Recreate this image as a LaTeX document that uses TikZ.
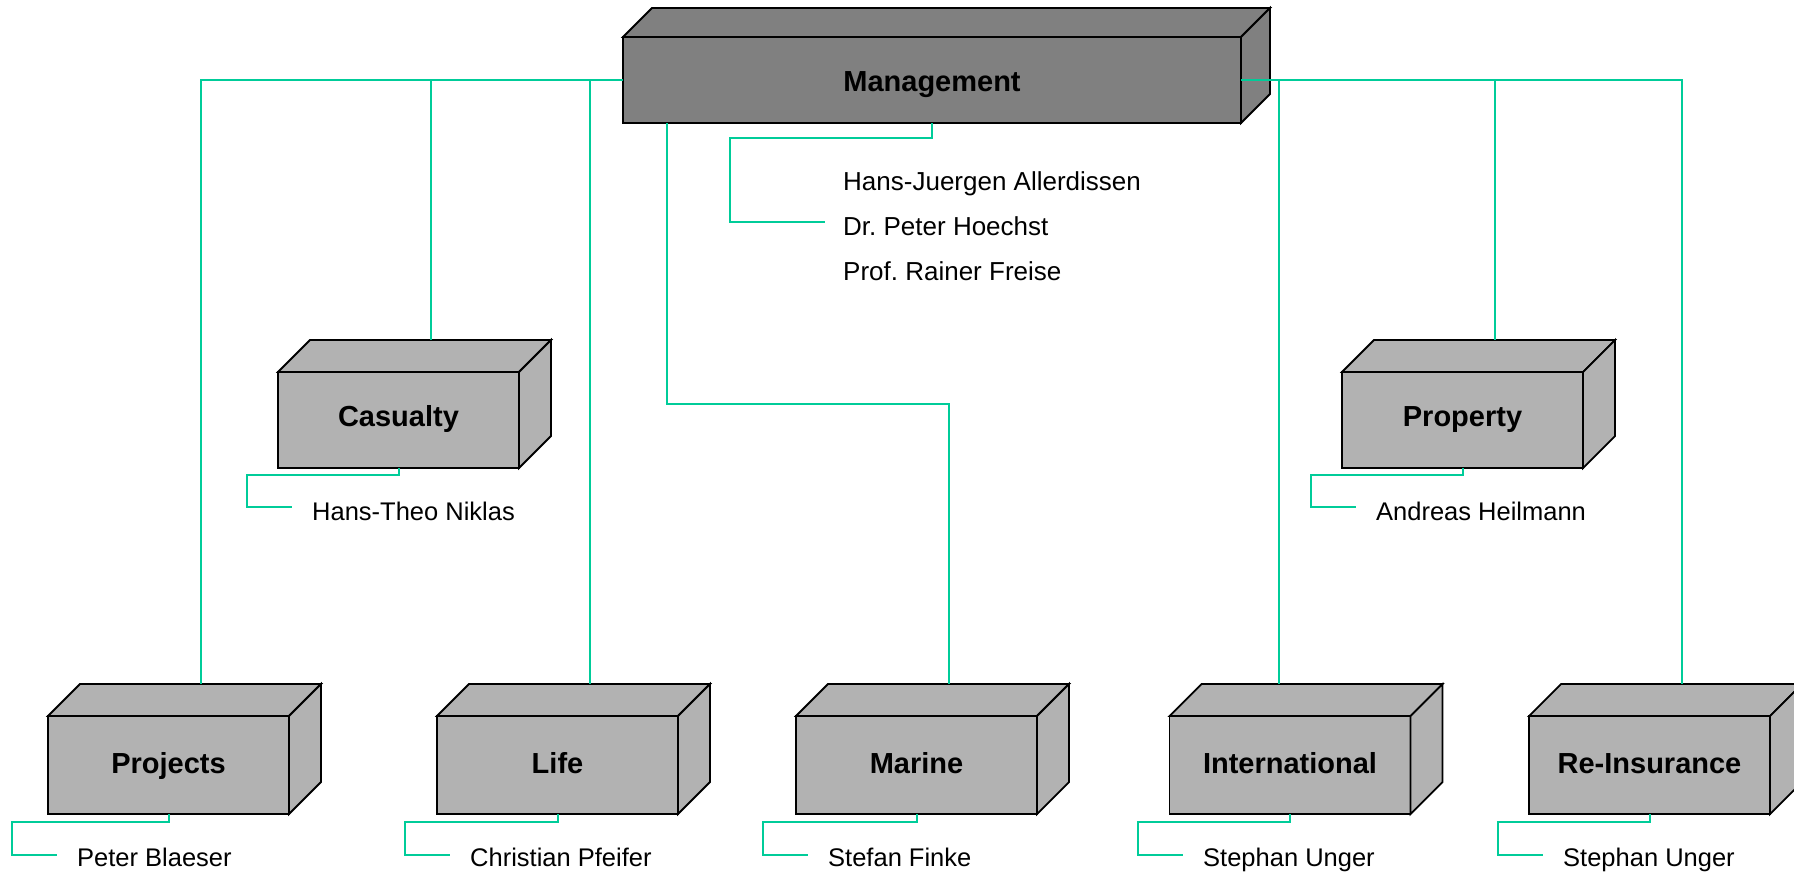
\documentclass[tikz,border=0pt]{standalone}
\usepackage{fontspec}
\setmainfont{Liberation Sans}
\usetikzlibrary{calc}

\definecolor{busgreen}{RGB}{0,204,153}
\definecolor{darkbox}{RGB}{128,128,128}
\definecolor{lightbox}{RGB}{178,178,178}

\tikzset{
  cubeface/.style={draw=black, line width=1.8pt, outer sep=0pt, inner sep=0pt,
    font=\bfseries\fontsize{29}{32}\selectfont, text depth=0pt},
  cubeedge/.style={draw=black, line width=1.8pt, line join=miter},
  bus/.style={draw=busgreen, line width=2pt},
  person/.style={inner sep=0pt, anchor=base west, font=\fontsize{25.5}{28}\selectfont},
}

% #1 name, #2 centre x, #3 centre y, #4 width, #5 height, #6 depth, #7 fill, #8 label, #9 text height
\newcommand{\cubebox}[9]{%
  \node[cubeface, fill=#7, text height=#9, minimum width=#4pt, minimum height=#5pt] (#1) at (#2,#3) {#8};
  \filldraw[cubeedge, fill=#7] (#1.north west) -- ++(#6,-#6) -- ++(#4,0) -- (#1.north east) -- cycle;
  \filldraw[cubeedge, fill=#7] (#1.north east) -- ++(#6,-#6) -- ++(0,#5) -- (#1.south east) -- cycle;
  \coordinate (#1-top) at ($(#1.north)+(#6,-#6)$);
}

\begin{document}
\begin{tikzpicture}[x=1pt, y=-1pt]
  \clip (0,0) rectangle (1794,873);
  \fill[white] (0,0) rectangle (1794,873);

  % boxes
  \cubebox{mgmt}{932}{80}{618}{86}{29}{darkbox}{Management}{23pt}
  \cubebox{casualty}{398.5}{420}{241}{96}{32}{lightbox}{Casualty}{13pt}
  \cubebox{property}{1462.5}{420}{241}{96}{32}{lightbox}{Property}{13pt}
  \cubebox{projects}{168.5}{765}{241}{98}{32}{lightbox}{Projects}{17pt}
  \cubebox{life}{557.5}{765}{241}{98}{32}{lightbox}{Life}{17pt}
  \cubebox{marine}{916.5}{765}{241}{98}{32}{lightbox}{Marine}{17pt}
  \cubebox{intl}{1290}{765}{241}{98}{32}{lightbox}{International}{17pt}
  \cubebox{reins}{1649.5}{765}{241}{98}{32}{lightbox}{Re-Insurance}{17pt}

  % people
  \node[person, font=\fontsize{26}{28}\selectfont] (mg1) at (843,190) {Hans-Juergen Allerdissen};
  \node[person, font=\fontsize{26}{28}\selectfont] (mg2) at (843,235) {Dr.\ Peter Hoechst};
  \node[person, font=\fontsize{26}{28}\selectfont] (mg3) at (843,280) {Prof.\ Rainer Freise};
  \node[person] (p-cas) at (312,520) {Hans-Theo Niklas};
  \node[person] (p-prop) at (1376,520) {Andreas Heilmann};
  \node[person] (p-proj) at (77,866) {Peter Blaeser};
  \node[person] (p-life) at (470,866) {Christian Pfeifer};
  \node[person] (p-mar) at (828,866) {Stefan Finke};
  \node[person] (p-intl) at (1203,866) {Stephan Unger};
  \node[person] (p-reins) at (1563,866) {Stephan Unger};

  % reporting lines from management
  \coordinate (mgmt-marine) at ($(mgmt.south west)+(44,0)$);
  \coordinate (intl-in) at ($(intl-top)+(-43,0)$);
  \draw[bus] (mgmt.west) -| (projects-top);
  \draw[bus] (mgmt.west) -| (casualty-top);
  \draw[bus] (mgmt.west) -| (life-top);
  \draw[bus] (mgmt-marine) -- ++(0,281) -| (marine-top);
  \draw[bus] (mgmt.east) -| (intl-in);
  \draw[bus] (mgmt.east) -| (property-top);
  \draw[bus] (mgmt.east) -| (reins-top);

  % heads of each unit
  \draw[bus] (mgmt.south) -- ++(0,15) -| ([xshift=-113pt,yshift=13pt]mg2.base west) -- ([xshift=-18pt,yshift=13pt]mg2.base west);
  \draw[bus] (casualty.south) -- ++(0,7) -| ([xshift=-65pt,yshift=13pt]p-cas.base west) -- ([xshift=-20pt,yshift=13pt]p-cas.base west);
  \draw[bus] (property.south) -- ++(0,7) -| ([xshift=-65pt,yshift=13pt]p-prop.base west) -- ([xshift=-20pt,yshift=13pt]p-prop.base west);
  \draw[bus] (projects.south) -- ++(0,8) -| ([xshift=-65pt,yshift=11pt]p-proj.base west) -- ([xshift=-20pt,yshift=11pt]p-proj.base west);
  \draw[bus] (life.south) -- ++(0,8) -| ([xshift=-65pt,yshift=11pt]p-life.base west) -- ([xshift=-20pt,yshift=11pt]p-life.base west);
  \draw[bus] (marine.south) -- ++(0,8) -| ([xshift=-65pt,yshift=11pt]p-mar.base west) -- ([xshift=-20pt,yshift=11pt]p-mar.base west);
  \draw[bus] (intl.south) -- ++(0,8) -| ([xshift=-65pt,yshift=11pt]p-intl.base west) -- ([xshift=-20pt,yshift=11pt]p-intl.base west);
  \draw[bus] (reins.south) -- ++(0,8) -| ([xshift=-65pt,yshift=11pt]p-reins.base west) -- ([xshift=-20pt,yshift=11pt]p-reins.base west);
\end{tikzpicture}
\end{document}
